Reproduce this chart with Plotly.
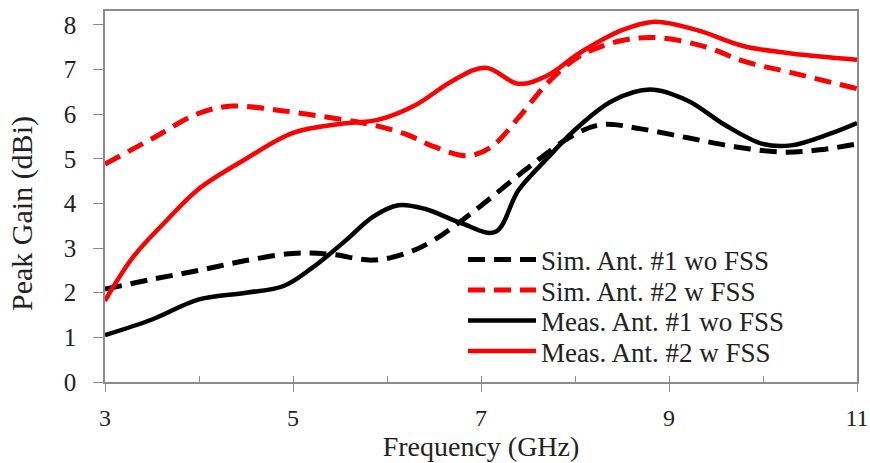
import plotly.graph_objects as go

# Peak gain versus frequency for the two antennas (simulated and measured)
sim1_freq = [3.0, 3.5, 4.0, 4.5, 5.0, 5.4, 5.85, 6.2, 6.5, 7.0, 7.5, 8.0, 8.3,
             8.7, 9.2, 9.7, 10.2, 10.6, 11.0]
sim1_gain = [2.08, 2.3, 2.5, 2.72, 2.88, 2.86, 2.73, 2.88, 3.18, 3.95, 4.8, 5.55, 5.77,
             5.67, 5.47, 5.27, 5.15, 5.2, 5.33]

sim2_freq = [3.0, 3.5, 4.0, 4.35, 4.8, 5.3, 5.8, 6.2, 6.5, 6.85, 7.1, 7.4, 7.7,
             8.05, 8.5, 8.9, 9.4, 9.8, 10.3, 11.0]
sim2_gain = [4.88, 5.45, 6.02, 6.18, 6.1, 5.95, 5.78, 5.55, 5.27, 5.07, 5.25, 5.92, 6.68,
             7.3, 7.65, 7.71, 7.5, 7.18, 6.93, 6.57]

meas1_freq = [3.0, 3.5, 4.0, 4.5, 4.9, 5.2, 5.55, 5.85, 6.12, 6.4, 6.8, 7.15, 7.4, 7.7,
              8.0, 8.4, 8.8, 9.2, 9.6, 10.0, 10.3, 10.7, 11.0]
meas1_gain = [1.05, 1.4, 1.85, 2.0, 2.15, 2.55, 3.15, 3.7, 3.96, 3.88, 3.55, 3.36, 4.3, 5.0,
              5.65, 6.3, 6.55, 6.3, 5.75, 5.33, 5.3, 5.55, 5.8]

meas2_freq = [3.0, 3.3, 3.66, 4.0, 4.5, 5.0, 5.5, 5.9, 6.3, 6.7, 7.05, 7.4, 7.7, 8.05,
              8.5, 8.85, 9.3, 9.8, 10.3, 11.0]
meas2_gain = [1.82, 2.8, 3.63, 4.33, 5.0, 5.58, 5.78, 5.87, 6.2, 6.75, 7.04, 6.68, 6.86, 7.37,
              7.88, 8.07, 7.88, 7.52, 7.36, 7.22]

series_names = ["Sim. Ant. #1 wo FSS", "Sim. Ant. #2 w FSS",
                "Meas. Ant. #1 wo FSS", "Meas. Ant. #2 w FSS"]

x_ticks = [3, 5, 7, 9, 11]
y_ticks = [0, 1, 2, 3, 4, 5, 6, 7, 8]

FONT = "Liberation Serif, Times New Roman, serif"
RED = "#ff0000"
BLACK = "#000000"
AXIS_GREY = "#8c8c8c"
TEXT = "#222222"
DASH = "17px,9px"

fig = go.Figure()

styles = [
    (sim1_freq, sim1_gain, BLACK, DASH, 5, "legend"),
    (sim2_freq, sim2_gain, RED, DASH, 5, "legend2"),
    (meas1_freq, meas1_gain, BLACK, "solid", 4.5, "legend3"),
    (meas2_freq, meas2_gain, RED, "solid", 4.5, "legend4"),
]
for name, (fx, gy, col, dash, w, leg) in zip(series_names, styles):
    fig.add_trace(go.Scatter(
        x=fx, y=gy, name=name, mode="lines", legend=leg,
        line=dict(color=col, width=w, dash=dash, shape="spline", smoothing=1.0),
    ))

# second x axis only to draw the short inside ticks at every GHz
fig.add_trace(go.Scatter(x=[3, 11], y=[0, 0], xaxis="x2", mode="lines",
                         line=dict(width=0), showlegend=False, hoverinfo="skip"))

# plot-area geometry in pixels
L, R, T, B = 105, 13, 11, 81
W, H = 870, 463
pw, ph = W - L - R, H - T - B

def px_to_paper_x(px):
    return (px - L) / pw

def px_to_paper_y(py):
    return (H - B - py) / ph

legend_rows = [260, 290.5, 321, 351.5]
legend_common = dict(
    xanchor="left", yanchor="middle", bgcolor="rgba(0,0,0,0)",
    font=dict(family=FONT, size=27, color=TEXT),
    itemwidth=68, borderwidth=0,
)
layout_legends = {}
for i, row in enumerate(legend_rows):
    key = "legend" if i == 0 else f"legend{i+1}"
    layout_legends[key] = dict(x=px_to_paper_x(463), y=px_to_paper_y(row), **legend_common)

fig.update_layout(
    width=W, height=H,
    margin=dict(l=L, r=R, t=T, b=B),
    paper_bgcolor="white", plot_bgcolor="white",
    font=dict(family=FONT, color=TEXT),
    showlegend=True,
    xaxis=dict(
        range=[3, 11], tickvals=x_ticks, ticks="outside", ticklen=8, tickwidth=1,
        tickcolor=AXIS_GREY, showline=True, linecolor=AXIS_GREY, linewidth=1.5,
        mirror=True, showgrid=False, zeroline=False, automargin=False,
        tickfont=dict(family=FONT, size=24, color=TEXT),
        ticklabelstandoff=5,
        title=dict(text="Frequency (GHz)", font=dict(family=FONT, size=28, color=TEXT),
                   standoff=6),
    ),
    xaxis2=dict(
        range=[3, 11], overlaying="x", dtick=1, tick0=3, ticks="inside", ticklen=6,
        tickwidth=1, tickcolor=AXIS_GREY, showticklabels=False, showgrid=False,
        zeroline=False, side="bottom", showline=False, automargin=False,
    ),
    yaxis=dict(
        range=[0, 8.31], tickvals=y_ticks, ticks="outside", ticklen=10, tickwidth=1,
        tickcolor=AXIS_GREY, showline=True, linecolor=AXIS_GREY, linewidth=1.5,
        mirror=True, showgrid=False, zeroline=False, automargin=False,
        tickfont=dict(family=FONT, size=25, color=TEXT),
        ticklabelstandoff=12,
    ),
    annotations=[dict(
        text="Peak Gain (dBi)", textangle=-90, showarrow=False,
        xref="paper", yref="paper", x=px_to_paper_x(22), y=px_to_paper_y(214),
        xanchor="center", yanchor="middle",
        font=dict(family=FONT, size=30, color=TEXT),
    )],
    **layout_legends,
)

fig.write_html("out.html")
